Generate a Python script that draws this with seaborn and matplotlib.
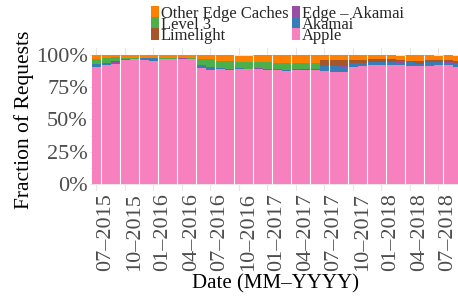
import numpy as np
import pandas as pd
import matplotlib
matplotlib.use("Agg")
import matplotlib.pyplot as plt
from matplotlib.patches import Patch
from matplotlib.ticker import PercentFormatter, MultipleLocator
import seaborn as sns

# ---------------- data (percent of requests per month, Jul 2015 .. Sep 2018) -------------
months = pd.date_range("2015-07-01", "2018-09-01", freq="MS")
apple = [90.5, 92.0, 92.8, 96.0, 96.3, 95.9, 95.1, 96.4, 96.4, 96.3, 96.3, 90.0, 88.4,
         88.7, 88.3, 88.7, 88.7, 88.9, 88.4, 88.2, 87.6, 88.2, 88.2, 88.2, 87.2, 86.6,
         86.6, 90.5, 91.3, 92.0, 92.0, 92.0, 92.0, 91.3, 91.3, 91.3, 92.0, 92.0, 90.5]
akamai = [2.5, 1.1, 1.0, 0.8, 0.5, 1.8, 2.1, 0.3, 0.3, 0.2, 0.3, 1.8, 1.8,
          1.0, 0.4, 1.0, 0.5, 0.0, 0.5, 0.8, 0.8, 0.0, 0.0, 0.3, 4.2, 4.9,
          4.1, 2.7, 2.3, 2.3, 2.3, 2.3, 1.6, 2.8, 1.8, 3.0, 2.3, 1.5, 3.1]
edge_akamai = [0.0, 0.5, 0.8, 0.0, 0.0, 0.0, 0.0, 0.0, 0.0, 1.2, 0.0, 0.0, 0.0,
               0.0, 0.0, 0.0, 0.0, 0.8, 0.0, 0.0, 0.0, 0.8, 0.0, 0.0, 0.0, 0.0,
               0.8, 0.0, 0.0, 0.0, 0.0, 0.0, 1.2, 0.0, 0.0, 0.0, 0.0, 0.8, 0.0]
limelight = [0.0, 0.0, 0.8, 0.0, 0.0, 0.0, 0.0, 0.0, 0.0, 0.0, 0.0, 0.0, 0.0,
             0.0, 0.0, 0.0, 0.0, 0.0, 0.0, 0.0, 0.0, 0.0, 0.8, 0.5, 4.6, 4.6,
             4.5, 2.8, 2.4, 2.4, 2.4, 2.4, 0.8, 1.2, 2.2, 1.6, 1.6, 1.6, 1.6]
level3 = [3.7, 4.2, 2.5, 1.0, 1.0, 0.0, 0.5, 1.0, 1.0, 0.0, 1.1, 4.9, 6.5,
          5.4, 6.5, 4.6, 5.1, 4.6, 5.4, 4.6, 5.1, 4.6, 4.6, 4.6, 0.0, 0.0,
          0.0, 0.0, 0.0, 0.0, 0.0, 0.0, 0.0, 0.0, 0.0, 0.0, 0.0, 0.0, 0.0]
other_edge = [3.3, 2.2, 2.1, 2.2, 2.2, 2.3, 2.3, 2.3, 2.3, 2.3, 2.3, 3.3, 3.3,
              4.9, 4.8, 4.7, 4.7, 5.7, 5.7, 6.4, 6.5, 6.4, 6.4, 6.4, 4.0, 3.9,
              4.0, 4.0, 4.0, 3.3, 3.3, 3.3, 3.4, 4.7, 4.7, 4.1, 3.3, 4.1, 3.9]

# stacking order, top to bottom
providers = ["Other Edge Caches", "Level 3", "Limelight", "Edge – Akamai", "Akamai", "Apple"]
colors = ["#FF7F00", "#4DAF4A", "#A65628", "#984EA3", "#377EB8", "#F781BF"]
legend_order = ["Other Edge Caches", "Level 3", "Limelight", "Edge – Akamai", "Akamai", "Apple"]
tick_months = months[::3]
tick_labels = [d.strftime("%m–%Y") for d in tick_months]

series = dict(zip(providers, [other_edge, level3, limelight, edge_akamai, akamai, apple]))
idx = np.arange(len(months))
df = pd.concat(
    [pd.DataFrame({"idx": idx, "provider": p, "frac": np.array(v) / 100.0})
     for p, v in series.items()],
    ignore_index=True,
)

# ---------------- style ----------------
sns.set_theme(style="white")
plt.rcParams["font.family"] = ["Liberation Serif", "DejaVu Serif"]

W, H = 458, 298
fig = plt.figure(figsize=(W / 100, H / 100), dpi=100)
ax = fig.add_axes([90 / W, 1 - 190.5 / H, 1 - 90 / W, (190.5 - 48.2) / H])

palette = dict(zip(providers, colors))
sns.histplot(data=df, x="idx", weights="frac", hue="provider", hue_order=providers,
             multiple="stack", discrete=True, shrink=1.0, palette=palette,
             alpha=1.0, linewidth=0, legend=False, ax=ax, zorder=2)

# thin white separators (as in the reference rendering)
sep_x = idx[::2][:-1] + 0.5
ax.vlines(sep_x, 0, 1.0, colors="white", linewidth=0.8, zorder=3)

# axes / grid
ax.set_xlim(-0.66, -0.5 + (W - 91.5) / 9.5)
ax.set_ylim(-0.05, 1.05)
ax.yaxis.set_major_locator(MultipleLocator(0.25))
ax.yaxis.set_minor_locator(MultipleLocator(0.125))
ax.yaxis.set_major_formatter(PercentFormatter(1.0, decimals=0))
tick_pos = [i for i, m in enumerate(months) if m in set(tick_months)]
ax.set_xticks(tick_pos)
ax.set_xticklabels(tick_labels, rotation=90, ha="left", va="top")
ax.grid(True, which="major", color="#E6E6E6", linewidth=0.8, zorder=0)
ax.grid(True, which="minor", axis="y", color="#EFEFEF", linewidth=0.5, zorder=0)
ax.set_axisbelow(True)
for s in ax.spines.values():
    s.set_visible(False)
ax.tick_params(axis="both", which="both", length=0, labelsize=16, colors="#4D4D4D")
ax.tick_params(axis="x", pad=2)
ax.tick_params(axis="y", pad=1.5)

ax.set_xlabel("Date (MM–YYYY)", fontsize=15, color="black")
ax.set_ylabel("Fraction of Requests", fontsize=15.5, color="black")
ax.xaxis.set_label_coords((276 - 90) / (W - 90), -(274 - 190.5) / 142.3)
ax.yaxis.set_label_coords(-(90 - 34) / (W - 90), 0.5)

handles = [Patch(facecolor=palette[p], edgecolor="none", label=p) for p in legend_order]
fig.legend(handles=handles, loc="upper left", ncol=2,
           bbox_to_anchor=(151.0 / W, 1 - 5.5 / H), frameon=False, fontsize=11.9,
           handlelength=0.5, handleheight=0.69, handletextpad=0.1,
           columnspacing=0.2, labelspacing=-0.3, borderpad=0, borderaxespad=0)

fig.savefig("out.png", dpi=100)
